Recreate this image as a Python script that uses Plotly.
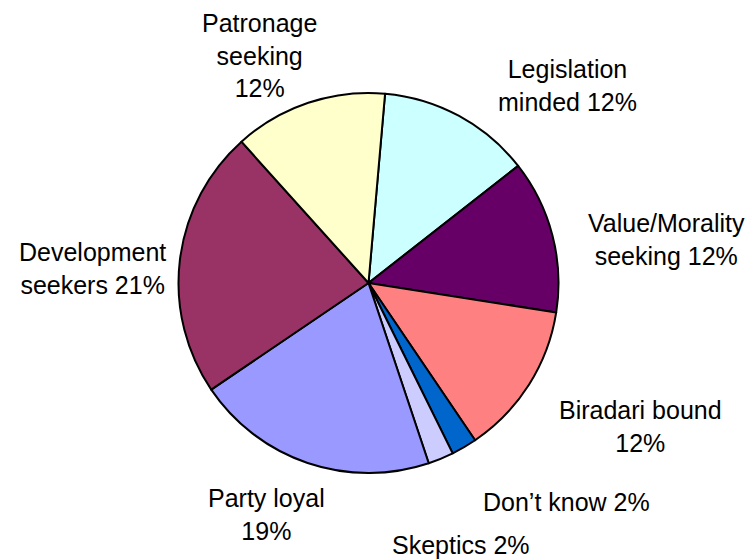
import plotly.graph_objects as go

# Voter typology shares (percent), listed clockwise from the top
categories = [
    "Legislation<br>minded",
    "Value/Morality<br>seeking",
    "Biradari bound<br>",
    "Don\u2019t know",
    "Skeptics",
    "Party loyal<br>",
    "Development<br>seekers",
    "Patronage<br>seeking<br>",
]
shares = [12, 12, 12, 2, 2, 19, 21, 12]
colors = ["#CCFFFF", "#660066", "#FF8080", "#0066CC",
          "#CCCCFF", "#9999FF", "#993366", "#FFFFCC"]

# Where each slice's caption sits (pixel centre in the 756x559 page)
label_xy = [(567, 85), (666, 239), (640, 426), (566, 502),
            (461, 545), (266, 514), (92, 269), (259, 56)]

W, H = 756, 559
cx, cy, r = 368.5, 283, 190

fig = go.Figure(go.Pie(
    values=shares,
    labels=[c.replace("<br>", " ") for c in categories],
    marker=dict(colors=colors, line=dict(color="black", width=2)),
    sort=False,
    direction="clockwise",
    rotation=5,
    textinfo="none",
    hoverinfo="skip",
    showlegend=False,
    domain=dict(x=[(cx - r) / W, (cx + r) / W],
                y=[(H - cy - r) / H, (H - cy + r) / H]),
))

annotations = []
for name, val, (px, py) in zip(categories, shares, label_xy):
    sep = "" if name.endswith("<br>") else " "
    annotations.append(dict(
        text=f"{name}{sep}{val}%",
        x=px / W, y=1 - py / H, xref="paper", yref="paper",
        xanchor="center", yanchor="middle", showarrow=False,
        align="center",
        font=dict(family="Liberation Sans, Arial, sans-serif", size=25, color="black"),
    ))

fig.update_layout(
    width=W, height=H,
    margin=dict(l=0, r=0, t=0, b=0),
    paper_bgcolor="white", plot_bgcolor="white",
    annotations=annotations,
)

fig.write_html("out.html")
